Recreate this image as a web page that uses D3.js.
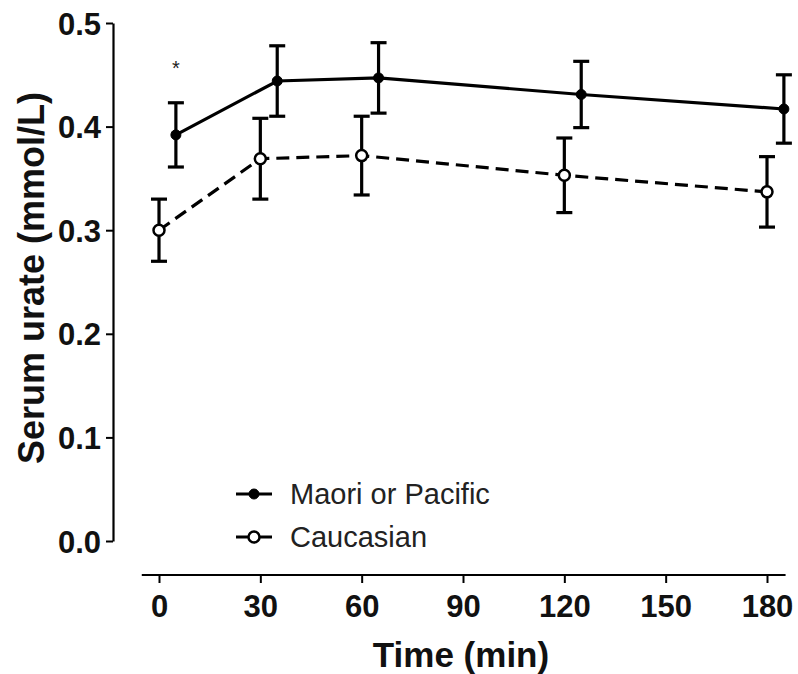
<!DOCTYPE html>
<html>
<head>
<meta charset="utf-8">
<script src="https://cdn.jsdelivr.net/npm/d3@7"></script>
<style>
  body { margin: 0; background: #fff; }
  svg text { font-family: "Liberation Sans", Arial, sans-serif; }
</style>
</head>
<body>
<svg id="chart" width="798" height="674"></svg>
<script>
// plotted x positions (Maori points are nudged +5 min in the original figure)
const maoriTime      = [5, 35, 65, 125, 185];
const maoriMean      = [0.392, 0.444, 0.447, 0.431, 0.417];
const maoriErr       = [0.031, 0.034, 0.034, 0.032, 0.033];
const caucasianTime  = [0, 30, 60, 120, 180];
const caucasianMean  = [0.300, 0.369, 0.372, 0.353, 0.337];
const caucasianErr   = [0.030, 0.039, 0.038, 0.036, 0.034];
const xTicks = [0, 30, 60, 90, 120, 150, 180];
const yTicks = [0.0, 0.1, 0.2, 0.3, 0.4, 0.5];
const seriesNames = ['Maori or Pacific', 'Caucasian'];
const starAt = { t: 5, v: 0.462 };

const svg = d3.select('#chart');

const x = d3.scaleLinear().domain([0, 180]).range([159, 767]);
const y = d3.scaleLinear().domain([0, 0.5]).range([541, 23]);

// y axis
const yAxis = d3.axisLeft(y).tickValues(yTicks).tickFormat(d3.format('.1f')).tickSize(7).tickSizeOuter(0);
const gy = svg.append('g').attr('transform', 'translate(113,0)').call(yAxis);
gy.select('.domain').attr('stroke', '#000').attr('stroke-width', 2.2);
gy.selectAll('.tick line').attr('stroke', '#000').attr('stroke-width', 2);
gy.selectAll('.tick text')
  .attr('x', -12).attr('dy', '0.36em')
  .style('font-size', '31px').style('font-weight', 'bold').attr('fill', '#111');

// x axis (offset, Prism style)
const xAxis = d3.axisBottom(x).tickValues(xTicks).tickSize(8).tickSizeOuter(0);
const gx = svg.append('g').attr('transform', 'translate(0,575)').call(xAxis);
gx.select('.domain').remove();
gx.append('line')
  .attr('x1', x(-5.1)).attr('x2', x(185.5))
  .attr('stroke', '#000').attr('stroke-width', 2.2);
gx.selectAll('.tick line').attr('stroke', '#000').attr('stroke-width', 2);
gx.selectAll('.tick text')
  .attr('y', 42).attr('dy', null)
  .style('font-size', '31px').style('font-weight', 'bold').attr('fill', '#111');

// axis titles
svg.append('text')
  .attr('transform', 'translate(44,' + 278 + ') rotate(-90)')
  .attr('text-anchor', 'middle')
  .style('font-size', '36px').style('font-weight', 'bold').attr('fill', '#111')
  .text('Serum urate (mmol/L)');
svg.append('text')
  .attr('x', 461).attr('y', 667)
  .attr('text-anchor', 'middle')
  .style('font-size', '35px').style('font-weight', 'bold').attr('fill', '#111')
  .text('Time (min)');

const series = [
  { name: seriesNames[0], t: maoriTime, m: maoriMean, e: maoriErr, dash: null, open: false },
  { name: seriesNames[1], t: caucasianTime, m: caucasianMean, e: caucasianErr, dash: '13,7', open: true }
];

const line = d3.line().x(d => x(d.t)).y(d => y(d.m));

series.forEach(s => {
  const pts = s.t.map((t, i) => ({ t: t, m: s.m[i], e: s.e[i] }));
  const g = svg.append('g');

  // error bars
  const eb = g.selectAll('.eb').data(pts).enter().append('g').attr('class', 'eb')
    .attr('stroke', '#000').attr('stroke-width', 3.2);
  eb.append('line')
    .attr('x1', d => x(d.t)).attr('x2', d => x(d.t))
    .attr('y1', d => y(d.m + d.e)).attr('y2', d => y(d.m - d.e));
  eb.append('line')
    .attr('x1', d => x(d.t) - 8).attr('x2', d => x(d.t) + 8)
    .attr('y1', d => y(d.m + d.e)).attr('y2', d => y(d.m + d.e));
  eb.append('line')
    .attr('x1', d => x(d.t) - 8).attr('x2', d => x(d.t) + 8)
    .attr('y1', d => y(d.m - d.e)).attr('y2', d => y(d.m - d.e));

  g.append('path').datum(pts)
    .attr('d', line)
    .attr('fill', 'none').attr('stroke', '#000').attr('stroke-width', 3.2)
    .attr('stroke-dasharray', s.dash);

  g.selectAll('circle').data(pts).enter().append('circle')
    .attr('cx', d => x(d.t)).attr('cy', d => y(d.m))
    .attr('r', s.open ? 5.5 : 5)
    .attr('fill', s.open ? '#fff' : '#000')
    .attr('stroke', '#000').attr('stroke-width', s.open ? 2.5 : 1);
});

// significance marker
svg.append('text')
  .attr('x', x(starAt.t)).attr('y', y(starAt.v) + 13)
  .attr('text-anchor', 'middle')
  .style('font-size', '20px').attr('fill', '#222')
  .text('*');

// legend
const legend = svg.append('g');
series.forEach((s, i) => {
  const ly = 494 + i * 43;
  legend.append('line')
    .attr('x1', 236).attr('x2', 272).attr('y1', ly).attr('y2', ly)
    .attr('stroke', '#000').attr('stroke-width', 3.2);
  legend.append('circle')
    .attr('cx', 254).attr('cy', ly).attr('r', s.open ? 5.5 : 5)
    .attr('fill', s.open ? '#fff' : '#000')
    .attr('stroke', '#000').attr('stroke-width', s.open ? 2.5 : 1);
  legend.append('text')
    .attr('x', 290).attr('y', ly).attr('dy', '0.36em')
    .style('font-size', '29px').attr('fill', '#222')
    .text(s.name);
});
</script>
</body>
</html>
